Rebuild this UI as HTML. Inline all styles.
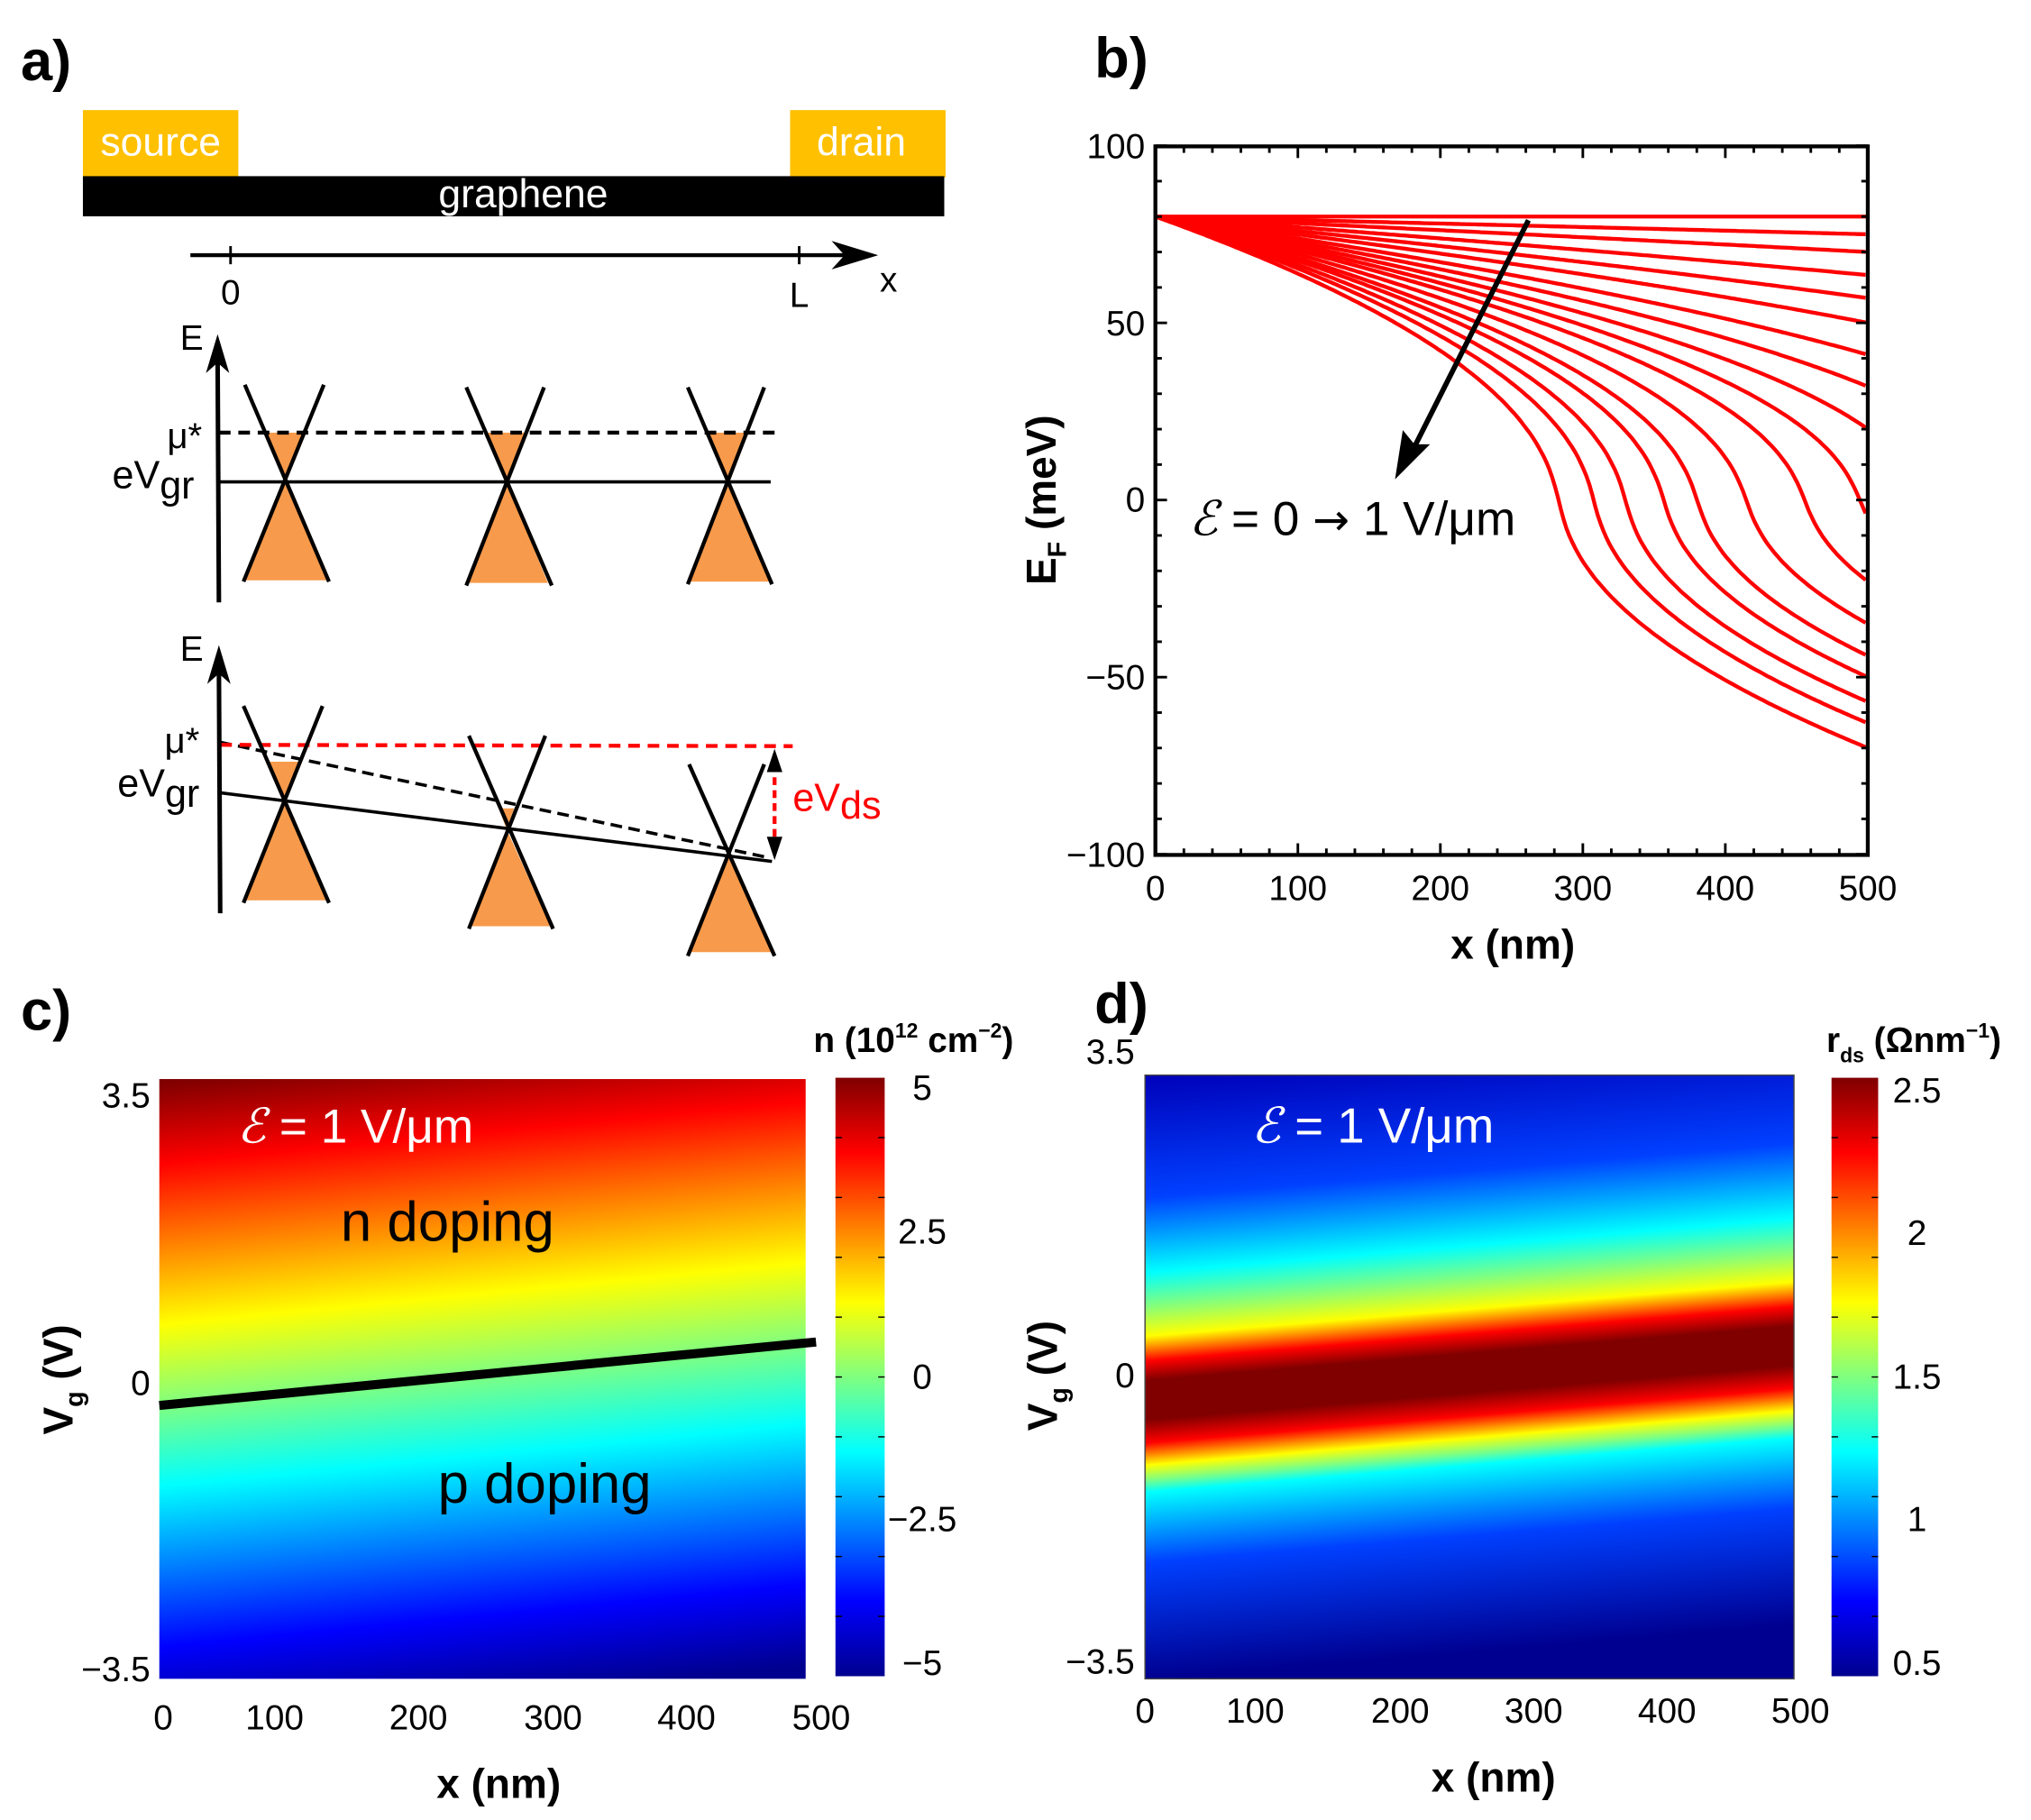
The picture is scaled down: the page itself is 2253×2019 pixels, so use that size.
<!DOCTYPE html>
<html><head><meta charset="utf-8">
<style>
html,body{margin:0;padding:0;background:#fff;}
svg{display:block;}
text{font-family:"Liberation Sans",Arial,sans-serif;}
.b{font-weight:bold;}
</style></head>
<body>
<svg id="s" xmlns="http://www.w3.org/2000/svg" width="2253" height="2019" viewBox="0 0 1568 1405" preserveAspectRatio="none">
<defs>
<linearGradient id="jetv" x1="0" y1="1" x2="0" y2="0">
<stop offset="0" stop-color="#00008f"/><stop offset="0.125" stop-color="#0000ff"/><stop offset="0.375" stop-color="#00ffff"/><stop offset="0.5" stop-color="#80ff80"/><stop offset="0.625" stop-color="#ffff00"/><stop offset="0.875" stop-color="#ff0000"/><stop offset="1" stop-color="#800000"/>
</linearGradient>
<linearGradient id="gc" gradientUnits="userSpaceOnUse" x1="372" y1="1309" x2="372" y2="813" gradientTransform="rotate(-5.5 372 1061)">
<stop offset="0" stop-color="#00008f"/><stop offset="0.125" stop-color="#0000ff"/><stop offset="0.375" stop-color="#00ffff"/><stop offset="0.5" stop-color="#80ff80"/><stop offset="0.625" stop-color="#ffff00"/><stop offset="0.875" stop-color="#ff0000"/><stop offset="1" stop-color="#800000"/>
</linearGradient>
<linearGradient id="gd" gradientUnits="userSpaceOnUse" x1="1134" y1="809" x2="1134" y2="1275" gradientTransform="rotate(-4.8 1134 1065)">
<stop offset="0" stop-color="#0000b8"/><stop offset="0.204" stop-color="#0040ff"/><stop offset="0.328" stop-color="#00ffff"/><stop offset="0.382" stop-color="#80ff80"/><stop offset="0.433" stop-color="#ffff00"/><stop offset="0.474" stop-color="#ff0000"/><stop offset="0.506" stop-color="#800000"/><stop offset="0.571" stop-color="#800000"/><stop offset="0.609" stop-color="#ff0000"/><stop offset="0.646" stop-color="#ffff00"/><stop offset="0.67" stop-color="#80ff80"/><stop offset="0.691" stop-color="#00ffff"/><stop offset="0.807" stop-color="#0040ff"/><stop offset="1" stop-color="#000090"/>
</linearGradient>
</defs>

<!-- ===== Panel a ===== -->
<text x="16" y="62" font-size="44" class="b">a)</text>
<rect x="64" y="85" width="120" height="52" fill="#FFC000"/>
<rect x="610" y="85" width="120" height="52" fill="#FFC000"/>
<rect x="64" y="136" width="665" height="31" fill="#000"/>
<text x="124" y="120" font-size="31" fill="#fff" text-anchor="middle">source</text>
<text x="665" y="120" font-size="31" fill="#fff" text-anchor="middle">drain</text>
<text x="404" y="160" font-size="31" fill="#fff" text-anchor="middle">graphene</text>
<line x1="147" y1="197" x2="660" y2="197" stroke="#000" stroke-width="3"/>
<path d="M642,186 L678,197 L642,208 L652,197 z" fill="#000"/>
<line x1="178" y1="190" x2="178" y2="204" stroke="#000" stroke-width="2"/>
<line x1="617" y1="190" x2="617" y2="204" stroke="#000" stroke-width="2"/>
<text x="178" y="235" font-size="27" text-anchor="middle">0</text>
<text x="617" y="237" font-size="27" text-anchor="middle">L</text>
<text x="686" y="225" font-size="27" text-anchor="middle">x</text>

<g id="up">
<polygon points="220,372 190,448 252,448" fill="#F79A4B"/>
<polygon points="220,372 204,334 236,334" fill="#F79A4B"/>
<polygon points="391,372 361,450 423,450" fill="#F79A4B"/>
<polygon points="391,372 375,334 407,334" fill="#F79A4B"/>
<polygon points="562,372 531,449 594,449" fill="#F79A4B"/>
<polygon points="562,372 546,334 578,334" fill="#F79A4B"/>
<line x1="169" y1="372" x2="595" y2="372" stroke="#000" stroke-width="2.5"/>
<line x1="169" y1="334" x2="603" y2="334" stroke="#000" stroke-width="3" stroke-dasharray="9,6"/>
<g stroke="#000" stroke-width="3">
<line x1="189" y1="297" x2="254" y2="449"/><line x1="250" y1="297" x2="188" y2="449"/>
<line x1="360" y1="299" x2="426" y2="452"/><line x1="420" y1="299" x2="360" y2="452"/>
<line x1="531" y1="299" x2="596" y2="451"/><line x1="590" y1="299" x2="531" y2="451"/>
</g>
<line x1="169" y1="465" x2="168" y2="275" stroke="#000" stroke-width="3.5"/>
<path d="M159,288 L168,258 L177,288 L168,280 z" fill="#000"/>
<text x="148" y="270" font-size="27" text-anchor="middle">E</text>
<text x="156" y="346" font-size="28" text-anchor="end">μ*</text>
<text x="150" y="377" font-size="30" text-anchor="end">eV<tspan dy="8">gr</tspan></text>
</g>

<polygon points="220,618 190,695 253,695" fill="#F79A4B"/>
<polygon points="220,618 208,588 232,588" fill="#F79A4B"/>
<polygon points="391,640 362,715 425,715" fill="#F79A4B"/>
<polygon points="391,640 385,624 397,624" fill="#F79A4B"/>
<polygon points="562,660 531,735 596,735" fill="#F79A4B"/>
<line x1="170" y1="612" x2="596" y2="665" stroke="#000" stroke-width="2.5"/>
<line x1="170" y1="573" x2="593" y2="662" stroke="#000" stroke-width="2.5" stroke-dasharray="9,5"/>
<line x1="170" y1="575" x2="612" y2="576" stroke="#ff0000" stroke-width="3" stroke-dasharray="9,6"/>
<g stroke="#000" stroke-width="3">
<line x1="188" y1="545" x2="254" y2="697"/><line x1="249" y1="545" x2="188" y2="697"/>
<line x1="362" y1="568" x2="427" y2="717"/><line x1="421" y1="568" x2="362" y2="717"/>
<line x1="532" y1="590" x2="598" y2="738"/><line x1="590" y1="590" x2="531" y2="738"/>
</g>
<line x1="170" y1="705" x2="169" y2="515" stroke="#000" stroke-width="3.5"/>
<path d="M160,528 L169,498 L178,528 L169,520 z" fill="#000"/>
<text x="148" y="510" font-size="27" text-anchor="middle">E</text>
<text x="154" y="581" font-size="28" text-anchor="end">μ*</text>
<text x="154" y="615" font-size="30" text-anchor="end">eV<tspan dy="8">gr</tspan></text>
<line x1="598" y1="590" x2="598" y2="648" stroke="#ff0000" stroke-width="3" stroke-dasharray="6,4"/>
<path d="M592,596 L598,578 L604,596 z" fill="#000"/>
<path d="M592,646 L598,664 L604,646 z" fill="#000"/>
<text x="612" y="626" font-size="30" fill="#ff0000">eV<tspan dy="6">ds</tspan></text>

<!-- ===== Panel b ===== -->
<text x="845" y="60" font-size="44" class="b">b)</text>
<g id="bcurves" fill="none" stroke="#ff0000" stroke-width="3"></g>
<rect x="892" y="113" width="550" height="547" fill="none" stroke="#000" stroke-width="3"/>
<g id="bticks" stroke="#000" stroke-width="2"></g>
<g font-size="27" text-anchor="end">
<text x="884" y="122">100</text><text x="884" y="259">50</text><text x="884" y="395">0</text><text x="884" y="532">−50</text><text x="884" y="669">−100</text>
</g>
<g font-size="27" text-anchor="middle">
<text x="892" y="695">0</text><text x="1002" y="695">100</text><text x="1112" y="695">200</text><text x="1222" y="695">300</text><text x="1332" y="695">400</text><text x="1442" y="695">500</text>
</g>
<text x="1168" y="740" font-size="32" class="b" text-anchor="middle">x (nm)</text>
<text transform="translate(815,386) rotate(-90)" font-size="32" class="b" text-anchor="middle">E<tspan font-size="20" dy="8">F</tspan><tspan dy="-8"> (meV)</tspan></text>
<line x1="1180" y1="170" x2="1092" y2="345" stroke="#000" stroke-width="4"/>
<path d="M1077,370 L1083,332 L1092,343 L1104,343 z" fill="#000"/>
<text x="918" y="413" font-size="37"><tspan font-family="Liberation Serif" font-style="italic">ℰ</tspan> = 0 <tspan font-family="DejaVu Sans" font-size="34">→</tspan> 1 V/μm</text>

<!-- ===== Panel c ===== -->
<text x="16" y="795" font-size="44" class="b">c)</text>
<rect x="123" y="833" width="499" height="463" fill="url(#gc)"/>
<line x1="123" y1="1085" x2="630" y2="1036" stroke="#000" stroke-width="7"/>
<text x="183" y="882" font-size="37" fill="#fff"><tspan font-family="Liberation Serif" font-style="italic">ℰ</tspan> = 1 V/μm</text>
<text x="263" y="958" font-size="43">n doping</text>
<text x="338" y="1160" font-size="43">p doping</text>
<rect x="645" y="832" width="38" height="462" fill="url(#jetv)"/>
<g id="ctk" stroke="#000" stroke-width="1"></g>
<g font-size="27" text-anchor="middle">
<text x="712" y="849">5</text><text x="712" y="960">2.5</text><text x="712" y="1072">0</text><text x="712" y="1182">−2.5</text><text x="712" y="1293">−5</text>
</g>
<text x="628" y="812" font-size="27" class="b">n (10<tspan font-size="16" dy="-11">12</tspan><tspan dy="11"> cm</tspan><tspan font-size="16" dy="-11">−2</tspan><tspan dy="11">)</tspan></text>
<g font-size="27" text-anchor="end">
<text x="116" y="855">3.5</text><text x="116" y="1077">0</text><text x="116" y="1298">−3.5</text>
</g>
<g font-size="27" text-anchor="middle">
<text x="126" y="1335">0</text><text x="212" y="1335">100</text><text x="323" y="1335">200</text><text x="427" y="1335">300</text><text x="530" y="1335">400</text><text x="634" y="1335">500</text>
</g>
<text x="385" y="1388" font-size="32" class="b" text-anchor="middle">x (nm)</text>
<text transform="translate(56,1065) rotate(-90)" font-size="32" class="b" text-anchor="middle">V<tspan font-size="20" dy="8">g</tspan><tspan dy="-8"> (V)</tspan></text>

<!-- ===== Panel d ===== -->
<text x="845" y="790" font-size="44" class="b">d)</text>
<rect x="884" y="830" width="501" height="466" fill="url(#gd)"/>
<rect x="884" y="830" width="501" height="466" fill="none" stroke="#444" stroke-width="1"/>
<text x="966" y="882" font-size="38" fill="#fff"><tspan font-family="Liberation Serif" font-style="italic">ℰ</tspan> = 1 V/μm</text>
<rect x="1414" y="832" width="36" height="462" fill="url(#jetv)"/>
<g id="dtk" stroke="#000" stroke-width="1"></g>
<g font-size="27" text-anchor="middle">
<text x="1480" y="851">2.5</text><text x="1480" y="961">2</text><text x="1480" y="1072">1.5</text><text x="1480" y="1182">1</text><text x="1480" y="1293">0.5</text>
</g>
<text x="1410" y="812" font-size="27" class="b">r<tspan font-size="16" dy="8">ds</tspan><tspan dy="-8"> (Ωnm</tspan><tspan font-size="16" dy="-11">−1</tspan><tspan dy="11">)</tspan></text>
<g font-size="27" text-anchor="end">
<text x="876" y="821">3.5</text><text x="876" y="1071">0</text><text x="876" y="1292">−3.5</text>
</g>
<g font-size="27" text-anchor="middle">
<text x="884" y="1330">0</text><text x="969" y="1330">100</text><text x="1081" y="1330">200</text><text x="1184" y="1330">300</text><text x="1287" y="1330">400</text><text x="1390" y="1330">500</text>
</g>
<text x="1153" y="1383" font-size="32" class="b" text-anchor="middle">x (nm)</text>
<text transform="translate(816,1062) rotate(-90)" font-size="32" class="b" text-anchor="middle">V<tspan font-size="20" dy="8">g</tspan><tspan dy="-8"> (V)</tspan></text>
</svg>
<script>
(function(){
var NS="http://www.w3.org/2000/svg";
function el(p,t,a){var e=document.createElementNS(NS,t);for(var k in a)e.setAttribute(k,a[k]);p.appendChild(e);return e;}
var X=function(x){return 892+x*1.1;}, Y=function(e){return 386-e*2.735;};
var w=7;
function sim(k,rec){var E=80,pts=rec?[[0,80]]:null;for(var x=0;x<500;x+=0.5){E-=0.5*(k/2)/Math.sqrt(E*E+w*w);if(rec&&((x*2)%4==0))pts.push([x+0.5,E]);}return rec?pts:E;}
var targets=[80,75,70,63.5,57,50,41,32,20,-5,-23,-35,-44,-50,-57,-63,-70];
var g=document.getElementById("bcurves");
targets.forEach(function(t){
 var pts;
 if(t>=80){pts=[[0,80],[500,80]];}
 else{var lo=0,hi=60;for(var i=0;i<50;i++){var m=(lo+hi)/2;if(sim(m,false)>t)lo=m;else hi=m;}pts=sim((lo+hi)/2,true);}
 var d=pts.map(function(p,i){return (i?"L":"M")+X(p[0]).toFixed(1)+","+Y(p[1]).toFixed(1);}).join("");
 el(g,"path",{d:d});
});
var tk=document.getElementById("bticks");
for(var x=0;x<=500;x+=20){var L=(x%100==0)?9:5;el(tk,"line",{x1:X(x),y1:113,x2:X(x),y2:113+L});el(tk,"line",{x1:X(x),y1:660,x2:X(x),y2:660-L});}
for(var e=-100;e<=100;e+=10){var L=(e%50==0)?9:5;el(tk,"line",{x1:892,y1:Y(e),x2:892+L,y2:Y(e)});el(tk,"line",{x1:1442,y1:Y(e),x2:1442-L,y2:Y(e)});}
function cbt(id,x0,x1){var t=document.getElementById(id);for(var i=1;i<10;i++){var y=832+i*46.2;el(t,"line",{x1:x0,y1:y,x2:x0+5,y2:y});el(t,"line",{x1:x1-5,y1:y,x2:x1,y2:y});}}
cbt("ctk",645,683);cbt("dtk",1414,1450);
})();
</script>
</body></html>
